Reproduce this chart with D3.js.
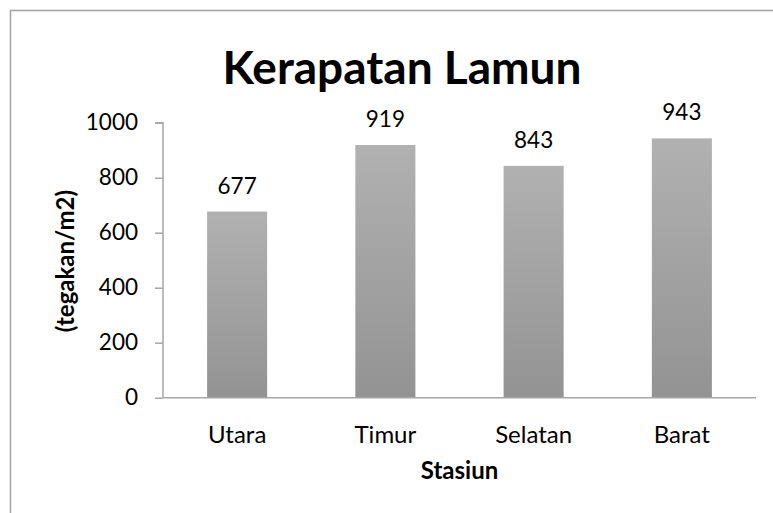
<!DOCTYPE html>
<html>
<head>
<meta charset="utf-8">
<script src="https://cdn.jsdelivr.net/npm/d3@7/dist/d3.min.js"></script>
<style>
  html, body { margin: 0; padding: 0; background: #fff; }
  svg { display: block; font-family: Lato, "Open Sans", sans-serif; }
</style>
</head>
<body>
<svg id="chart" width="773" height="513"></svg>
<script>
const categories = ["Utara", "Timur", "Selatan", "Barat"];
const values = [677, 919, 843, 943];
const yTicks = [0, 200, 400, 600, 800, 1000];
const title = "Kerapatan Lamun";
const xTitle = "Stasiun";
const yTitle = "(tegakan/m2)";

const svg = d3.select("#chart");

const defs = svg.append("defs");
const grad = defs.append("linearGradient")
  .attr("id", "barGrad").attr("x1", 0).attr("y1", 0).attr("x2", 0).attr("y2", 1);
grad.append("stop").attr("offset", "0%").attr("stop-color", "#b1b1b1");
grad.append("stop").attr("offset", "100%").attr("stop-color", "#939393");

svg.append("rect")
  .attr("x", 10.5).attr("y", 10.5)
  .attr("width", 800).attr("height", 600)
  .attr("fill", "none").attr("stroke", "#a0a0a0").attr("stroke-width", 1.5);

const plotLeft = 163, plotRight = 756, plotTop = 122.7, plotBottom = 397.7;

const x = d3.scaleBand().domain(categories).range([plotLeft, plotRight])
  .paddingInner(0.595).paddingOuter(0.2975);
const y = d3.scaleLinear().domain([0, 1000]).range([plotBottom, plotTop]);

svg.append("g").selectAll("rect").data(values).join("rect")
  .attr("x", (d, i) => x(categories[i]))
  .attr("y", d => y(d))
  .attr("width", x.bandwidth())
  .attr("height", d => y(0) - y(d))
  .attr("fill", "url(#barGrad)");

const yAxis = svg.append("g").attr("transform", `translate(${plotLeft},0)`)
  .call(d3.axisLeft(y).tickValues(yTicks).tickSize(8).tickPadding(17).tickFormat(d3.format("d")));
yAxis.select(".domain").attr("stroke", "#a6a6a6").attr("stroke-width", 1.5).attr("d", `M-8,${plotTop}H0V${plotBottom}`);
yAxis.selectAll(".tick line").attr("stroke", "#a6a6a6").attr("stroke-width", 1.5);
yAxis.selectAll(".tick text").attr("font-size", 22.5).attr("fill", "#000")
  .attr("font-family", "Lato, sans-serif");

const xAxis = svg.append("g").attr("transform", `translate(0,${plotBottom})`)
  .call(d3.axisBottom(x).tickSize(0).tickPadding(28));
xAxis.select(".domain").attr("stroke", "#a6a6a6").attr("stroke-width", 1.5).attr("d", `M${plotLeft},0H${plotRight}`);
xAxis.selectAll(".tick text").attr("font-size", 24).attr("fill", "#000")
  .attr("font-family", "Lato, sans-serif");

svg.append("g").selectAll("text").data(values).join("text")
  .attr("x", (d, i) => x(categories[i]) + x.bandwidth() / 2)
  .attr("y", d => y(d) - 18)
  .attr("text-anchor", "middle")
  .attr("font-size", 22.5)
  .attr("fill", "#000")
  .text(d => d);

svg.append("text")
  .attr("x", 402).attr("y", 84)
  .attr("text-anchor", "middle")
  .attr("font-size", 46).attr("font-weight", "bold")
  .text(title);

svg.append("text")
  .attr("x", (plotLeft + plotRight) / 2).attr("y", 479)
  .attr("text-anchor", "middle")
  .attr("font-size", 24).attr("font-weight", "bold")
  .text(xTitle);

svg.append("text")
  .attr("transform", "translate(74,261) rotate(-90)")
  .attr("text-anchor", "middle")
  .attr("font-size", 24).attr("font-weight", "bold")
  .text(yTitle);
</script>
</body>
</html>
